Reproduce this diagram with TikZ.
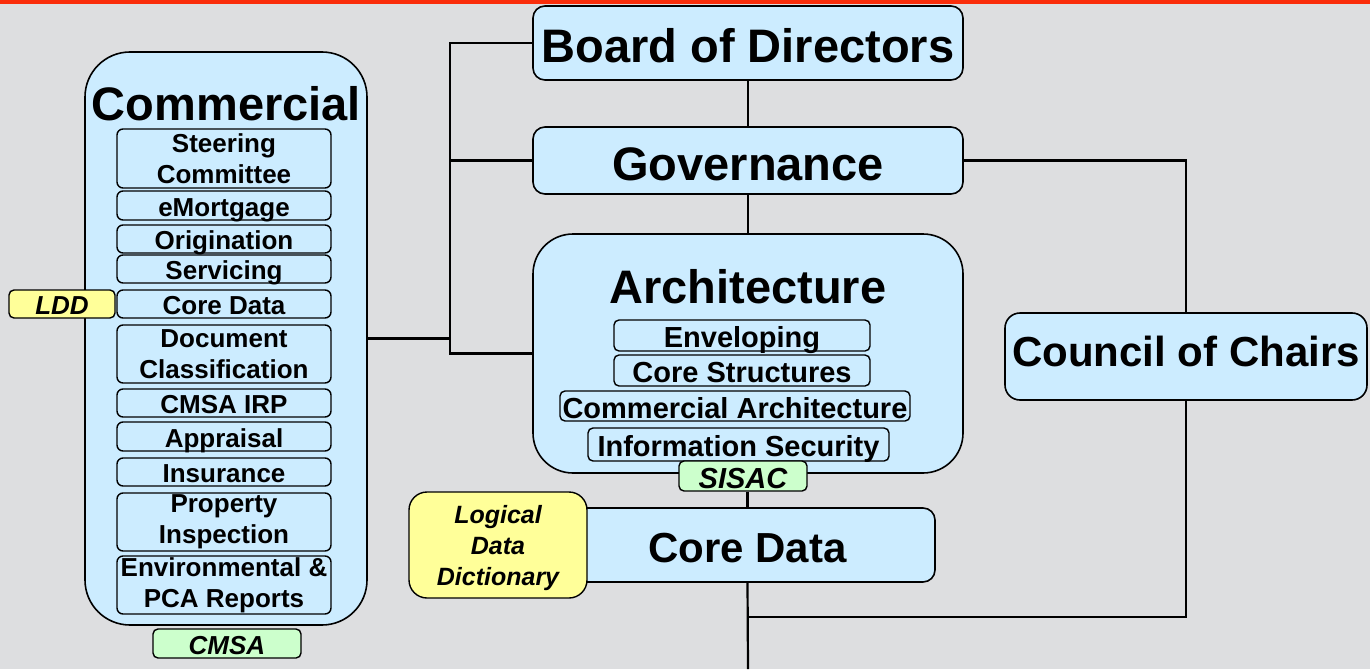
\documentclass[tikz,border=0pt]{standalone}
\usepackage{fontspec}
\setmainfont{Liberation Sans}
\definecolor{bgcol}{RGB}{221,222,224}
\definecolor{boxblue}{RGB}{204,236,255}
\definecolor{noteyellow}{RGB}{255,255,153}
\definecolor{notegreen}{RGB}{204,255,204}
\definecolor{barred}{RGB}{250,45,10}
\newcommand{\fsz}[2]{\fontsize{#1}{#2}\selectfont}
\tikzset{
  box/.style={draw=black, line width=1.6pt, fill=boxblue, rounded corners=12pt,
    inner sep=0pt, align=center, font=\bfseries\fsz{47}{50}},
  subbox/.style={draw=black, line width=1.4pt, fill=boxblue, rounded corners=6pt,
    inner sep=0pt, align=center, minimum width=214pt, font=\bfseries\fsz{26}{31}},
  archsub/.style={draw=black, line width=1.4pt, fill=boxblue, rounded corners=5pt,
    inner sep=0pt, align=center, font=\bfseries\fsz{29}{31}, text height=24.4pt, text depth=0pt},
  note/.style={draw=black, line width=1.4pt, rounded corners=5pt, inner sep=0pt,
    align=center, font=\bfseries\itshape\fsz{26}{31}},
  one47/.style={text height=39.5pt, text depth=0pt},
  one42/.style={text height=35.3pt, text depth=0pt},
  one29/.style={text height=24.4pt, text depth=0pt},
  one26/.style={text height=21.8pt, text depth=0pt},
  conn/.style={draw=black, line width=2.2pt},
  title/.style={inner sep=0pt, font=\bfseries\fsz{47}{50}}
}
\begin{document}
\begin{tikzpicture}[x=1pt,y=-1pt]
\useasboundingbox (0,0) rectangle (1370,669);
\fill[bgcol] (0,0) rectangle (1370,669);
\fill[barred] (0,0) rectangle (1370,4);

% main column
\node[box, one47, minimum width=430pt, minimum height=74pt] (board) at (748,43) {Board of Directors};
\node[box, one47, minimum width=430pt, minimum height=67pt] (gov) at (748,160.5) {Governance};
\node[box, rounded corners=40pt, minimum width=430pt, minimum height=239pt] (arch) at (748,353.5) {};
\node[title] (archt) at (748,287) {Architecture};
\node[archsub, minimum width=256pt, minimum height=31pt] (env) at (742,335.5) {Enveloping};
\node[archsub, minimum width=256pt, minimum height=31pt] (cstr) at (742,370.5) {Core Structures};
\node[archsub, minimum width=350pt, minimum height=30pt] (carch) at (735,406) {Commercial Architecture};
\node[archsub, minimum width=301pt, minimum height=33pt] (isec) at (738.5,444.5) {Information Security};
\node[note, one29, fill=notegreen, minimum width=128pt, minimum height=30pt, font=\bfseries\itshape\fsz{29}{31}] (sisac) at (743,476) {SISAC};
\node[box, one42, font=\bfseries\fsz{42}{45}, minimum width=375pt, minimum height=74pt] (core) at (747.5,545) {Core Data};
\node[note, fill=noteyellow, rounded corners=18pt, minimum width=178pt, minimum height=106pt, text height=86pt, text depth=5.2pt, font=\bfseries\itshape\fsz{25}{31}] (ldd2) at (498,545) {Logical\\Data\\Dictionary};
\node[box, rounded corners=15pt, font=\bfseries\fsz{42}{45}, text height=30.2pt, text depth=10pt, minimum width=362pt, minimum height=87pt] (council) at (1186,356.5) {Council of Chairs};

% commercial column
\node[box, rounded corners=45pt, minimum width=282pt, minimum height=573pt] (comm) at (226,338.5) {};
\node[title] (commt) at (226.5,104) {Commercial};
\node[subbox, minimum height=59pt] (steer) at (224,158.5) {Steering\\Committee};
\node[subbox, one26, minimum height=29pt] (emort) at (224,205.5) {eMortgage};
\node[subbox, one26, minimum height=28pt] (orig) at (224,239) {Origination};
\node[subbox, one26, minimum height=28pt] (serv) at (224,269) {Servicing};
\node[subbox, one26, minimum height=28pt] (ccore) at (224,304) {Core Data};
\node[subbox, minimum height=58pt] (doc) at (224,354) {Document\\Classification};
\node[subbox, one26, minimum height=28pt] (irp) at (224,403) {CMSA IRP};
\node[subbox, one26, minimum height=29pt] (appr) at (224,436.5) {Appraisal};
\node[subbox, one26, minimum height=28pt] (ins) at (224,472) {Insurance};
\node[subbox, minimum height=58pt] (prop) at (224,522) {Property\\Inspection};
\node[subbox, minimum height=58pt] (envr) at (224,585) {Environmental \&\\PCA Reports};
\node[note, one26, fill=noteyellow, minimum width=106pt, minimum height=28pt] (ldd) at (62,304) {LDD};
\node[note, one26, fill=notegreen, minimum width=148pt, minimum height=29pt] (cmsa) at (227,643.5) {CMSA};

% connectors
\coordinate (bot) at (748,669);
\coordinate (join) at (748,617);
\draw[conn] (board.west) -- ++(-82,0) coordinate (spine) |- (arch.west);
\draw[conn] (gov.west) -- (gov.west -| spine);
\draw[conn] (comm.east) -- (comm.east -| spine);
\draw[conn] (board.south) -- (gov.north);
\draw[conn] (gov.south) -- (arch.north);
\draw[conn] (core.north |- sisac.south) -- (core.north);
\draw[conn] (core.south) -- (bot);
\draw[conn] (gov.east) -| (council.north);
\draw[conn] (council.south) |- (join);
\end{tikzpicture}
\end{document}
